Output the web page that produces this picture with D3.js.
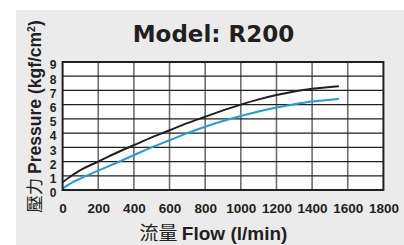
<!DOCTYPE html>
<html>
<head>
<meta charset="utf-8">
<script src="https://cdn.jsdelivr.net/npm/d3@7"></script>
<style>
  body { margin: 0; background: #ffffff; }
  svg { display: block; }
</style>
</head>
<body>
<div id="chart"></div>
<script>
// data
var flowTicks = [0, 200, 400, 600, 800, 1000, 1200, 1400, 1600, 1800];
var pressureTicks = [0, 1, 2, 3, 4, 5, 6, 7, 8, 9];
var flow = [0, 50, 100, 200, 300, 400, 500, 600, 700, 800, 900, 1000, 1100, 1200, 1300, 1400, 1500, 1550];
var pressureBlack = [0.55, 1.0, 1.4, 2.0, 2.6, 3.15, 3.7, 4.2, 4.7, 5.15, 5.6, 6.0, 6.37, 6.68, 6.93, 7.12, 7.25, 7.3];
var pressureBlue = [0.1, 0.5, 0.8, 1.36, 1.9, 2.45, 3.0, 3.5, 4.0, 4.45, 4.85, 5.2, 5.52, 5.8, 6.03, 6.22, 6.35, 6.4];

var width = 404,
    height = 245,
    plot_left = 62.6,
    plot_right = 383.4,
    plot_top = 62,
    plot_bottom = 190;

var svg = d3.select("#chart").append("svg")
    .attr("width", width)
    .attr("height", height);

// grey panel
svg.append("rect")
    .attr("x", 16).attr("y", 10)
    .attr("width", width - 16).attr("height", height - 10)
    .attr("fill", "#ebebeb");

var x = d3.scaleLinear().domain([0, 1800]).range([plot_left, plot_right]);
var y = d3.scaleLinear().domain([0, 9]).range([plot_bottom, plot_top]);

svg.append("rect")
    .attr("x", x(0)).attr("y", y(9))
    .attr("width", x(1800) - x(0)).attr("height", y(0) - y(9))
    .attr("fill", "#ffffff");

// grid
var grid = svg.append("g").attr("id", "grid");
grid.selectAll("line.v")
    .data(flowTicks.slice(1, -1))
    .enter().append("line")
    .attr("class", "v")
    .attr("x1", d => x(d)).attr("x2", d => x(d))
    .attr("y1", y(0)).attr("y2", y(9))
    .attr("stroke", "#6f6f6f")
    .attr("stroke-width", 1.6);
grid.selectAll("line.h")
    .data(pressureTicks.slice(1, -1))
    .enter().append("line")
    .attr("class", "h")
    .attr("x1", x(0)).attr("x2", x(1800))
    .attr("y1", d => y(d)).attr("y2", d => y(d))
    .attr("stroke", "#231f20")
    .attr("stroke-width", 1.2);

// curves
var line = d3.line()
    .x(d => x(d[0]))
    .y(d => y(d[1]))
    .curve(d3.curveMonotoneX);
svg.append("path")
    .attr("d", line(d3.zip(flow, pressureBlue)))
    .attr("fill", "none")
    .attr("stroke", "#1e9be2")
    .attr("stroke-width", 2);
svg.append("path")
    .attr("d", line(d3.zip(flow, pressureBlack)))
    .attr("fill", "none")
    .attr("stroke", "#231f20")
    .attr("stroke-width", 2);

// frame
svg.append("rect")
    .attr("x", x(0)).attr("y", y(9))
    .attr("width", x(1800) - x(0)).attr("height", y(0) - y(9))
    .attr("fill", "none")
    .attr("stroke", "#231f20")
    .attr("stroke-width", 2);

// axes (labels only, lines drawn above)
var xAxis = d3.axisBottom(x).tickValues(flowTicks).tickFormat(d3.format("d")).tickSize(0).tickPadding(0);
var gx = svg.append("g")
    .attr("transform", "translate(0," + 213 + ")")
    .call(xAxis);
gx.select(".domain").remove();
gx.selectAll("text")
    .attr("dy", 0)
    .attr("y", 0)
    .attr("fill", "#231f20")
    .attr("font-family", "Liberation Sans, Arial, sans-serif")
    .attr("font-weight", "bold")
    .attr("font-size", 13.5);

var yAxis = d3.axisLeft(y).tickValues(pressureTicks).tickFormat(d3.format("d")).tickSize(0).tickPadding(0);
var gy = svg.append("g")
    .attr("transform", "translate(53,3)")
    .call(yAxis);
gy.select(".domain").remove();
gy.selectAll("text")
    .attr("x", 0)
    .attr("text-anchor", "middle")
    .attr("fill", "#231f20")
    .attr("font-family", "Liberation Sans, Arial, sans-serif")
    .attr("font-weight", "bold")
    .attr("font-size", 12);

// titles
svg.append("text")
    .attr("x", 213.5).attr("y", 42)
    .attr("text-anchor", "middle")
    .attr("fill", "#231f20")
    .attr("font-family", "DejaVu Sans, sans-serif")
    .attr("font-weight", "bold")
    .attr("font-size", 23)
    .text("Model: R200");

var xt = svg.append("text")
    .attr("x", 213.5).attr("y", 239.5)
    .attr("text-anchor", "middle")
    .attr("fill", "#231f20")
    .attr("font-family", "Liberation Sans, Arial, sans-serif")
    .attr("font-size", 19);
xt.append("tspan")
    .attr("font-family", "Noto Sans CJK TC")
    .text("流量 ");
xt.append("tspan")
    .attr("font-weight", "bold")
    .text("Flow (l/min)");

var yt = svg.append("text")
    .attr("transform", "translate(41,116.5) rotate(-90)")
    .attr("text-anchor", "middle")
    .attr("fill", "#231f20")
    .attr("font-family", "Liberation Sans, Arial, sans-serif")
    .attr("font-size", 17.5);
yt.append("tspan")
    .attr("font-family", "Noto Sans CJK TC")
    .text("壓力 ");
yt.append("tspan")
    .attr("font-weight", "bold")
    .text("Pressure (kgf/cm");
yt.append("tspan")
    .attr("font-weight", "bold")
    .attr("font-size", 10.5)
    .attr("dy", -6.5)
    .text("2");
yt.append("tspan")
    .attr("font-weight", "bold")
    .attr("dy", 6.5)
    .text(")");
</script>
</body>
</html>
